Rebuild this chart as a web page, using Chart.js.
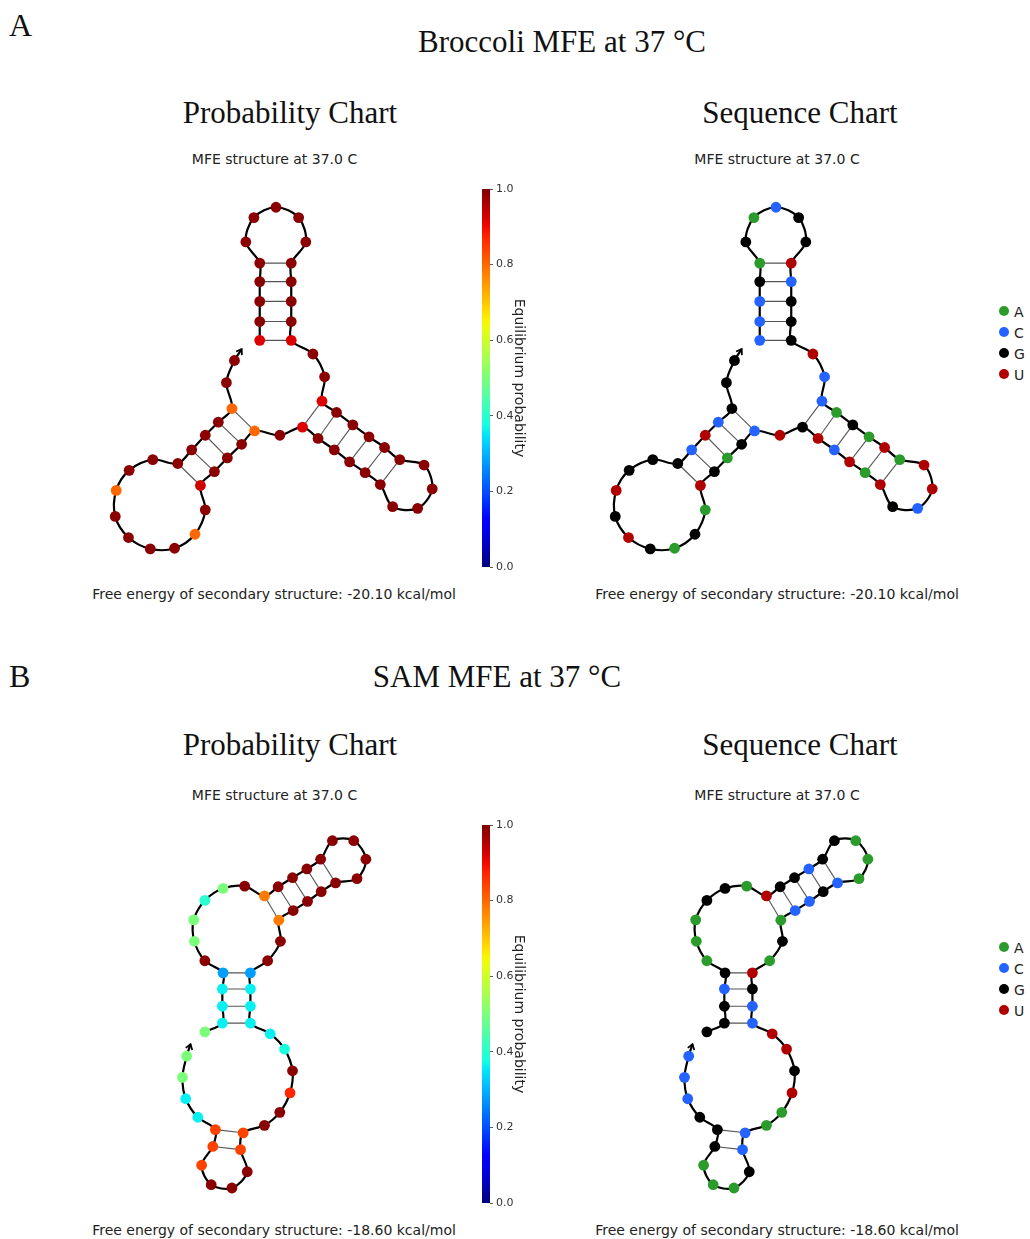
<!DOCTYPE html>
<html>
<head>
<meta charset="utf-8">
<title>Broccoli / SAM MFE structures</title>
<script src="https://cdn.jsdelivr.net/npm/chart.js@4.4.0/dist/chart.umd.min.js"></script>
<style>
  body { margin: 0; background: #fff; }
  #fig { position: relative; width: 1030px; height: 1239px; overflow: hidden; background: #fff; }
  .t { position: absolute; white-space: nowrap; line-height: 1; }
  .serif { font-family: "Liberation Serif", "Times New Roman", serif; color: #111; }
  .sans { font-family: "DejaVu Sans", sans-serif; color: #222; }
  .dot { position: absolute; width: 10px; height: 10px; border-radius: 50%; }
  canvas { position: absolute; }
</style>
</head>
<body>
<div id="fig"></div>
<script>
/* ---- Broccoli : coordenadas del dibujo (x, y hacia arriba), probabilidad y secuencia ---- */
const brocX = [169.3, 169.3, 169.3, 169.3, 169.3, 155.0, 163.3, 186.0, 209.3, 216.7,
               201.7, 201.7, 201.7, 201.7, 201.7, 224.0, 236.0, 233.3, 248.3, 265.0,
               281.7, 297.7, 313.3, 338.3, 346.7, 331.7, 306.0, 293.3, 277.7, 261.7,
               246.0, 229.3, 213.3, 190.0, 164.0, 150.7, 136.0, 122.7, 108.3, 113.3,
               102.7, 81.7, 56.7, 34.3, 20.7, 21.7, 35.0, 59.3, 85.0, 99.3,
               113.3, 126.7, 140.7, 135.0, 143.3];
const brocY = [240.7, 260.0, 280.7, 301.0, 320.0, 341.7, 366.7, 377.3, 366.7, 341.7,
               320.0, 301.0, 280.7, 260.0, 240.7, 226.7, 203.3, 178.3, 166.7, 154.0,
               141.7, 130.7, 118.3, 112.7, 88.3, 68.3, 70.0, 92.7, 105.0, 116.0,
               128.3, 140.0, 151.7, 143.3, 147.7, 134.0, 120.0, 106.0, 91.7, 66.7,
               41.7, 27.3, 26.7, 38.3, 60.0, 86.7, 107.3, 118.3, 114.3, 128.3,
               143.3, 156.7, 170.7, 197.3, 220.0];
const brocProb = [0.92, 0.99, 0.99, 0.99, 0.99, 0.99, 0.99, 0.99, 0.99, 0.99,
                  0.99, 0.99, 0.99, 0.99, 0.92, 0.99, 0.99, 0.92, 0.99, 0.99,
                  0.99, 0.99, 0.99, 0.99, 0.99, 0.99, 0.99, 0.99, 0.99, 0.99,
                  0.99, 0.99, 0.92, 0.99, 0.80, 0.99, 0.99, 0.99, 0.93, 0.99,
                  0.80, 0.99, 0.99, 0.99, 0.99, 0.80, 0.99, 0.99, 0.99, 0.99,
                  0.99, 0.99, 0.80, 0.99, 0.99];
const brocSeq = 'CCCGAGACGGUCGGGUCCAGAUAUUCGUAUCUGUCGAGUAGAGUGUGGGCUCGGG';
const brocPairI = [1, 2, 3, 4, 5, 18, 19, 20, 21, 22, 23, 35, 36, 37, 38, 39];
const brocPairJ = [15, 14, 13, 12, 11, 33, 32, 31, 30, 29, 28, 53, 52, 51, 50, 49];
const brocTip = [150.7, 231.7];
const brocEnergy = -20.10;

/* ---- SAM ---- */
const samX = [41.7, 60.0, 60.0, 60.0, 60.7, 41.7, 30.7, 30.0, 41.7, 60.7,
              83.3, 104.0, 118.3, 133.3, 148.3, 162.7, 175.0, 197.3, 210.0, 200.7,
              178.3, 163.3, 149.0, 134.0, 119.0, 120.7, 107.3, 89.3, 89.3, 89.3,
              89.3, 110.0, 125.0, 133.3, 130.7, 120.0, 104.0, 81.7, 79.0, 86.0,
              70.0, 48.3, 38.3, 50.0, 52.7, 34.3, 21.7, 18.3, 22.7];
const samY = [177.7, 186.7, 204.0, 221.7, 238.3, 250.7, 270.7, 292.7, 312.7, 325.0,
              327.3, 317.3, 326.7, 336.0, 345.0, 355.0, 374.0, 374.0, 355.0, 335.0,
              330.7, 321.7, 311.7, 302.3, 292.3, 270.7, 250.7, 238.3, 221.7, 204.0,
              186.7, 175.7, 160.0, 137.7, 115.0, 95.0, 81.7, 74.0, 56.7, 34.0,
              17.3, 20.7, 40.7, 60.0, 77.3, 90.0, 109.0, 131.0, 152.7];
const samProb = [0.50, 0.36, 0.36, 0.36, 0.28, 0.99, 0.50, 0.50, 0.40, 0.50,
                 0.99, 0.78, 0.99, 0.99, 0.99, 0.99, 0.99, 0.99, 0.99, 0.99,
                 0.99, 0.99, 0.99, 0.99, 0.78, 0.99, 0.99, 0.28, 0.36, 0.36,
                 0.36, 0.36, 0.38, 0.99, 0.87, 0.99, 0.99, 0.84, 0.84, 0.99,
                 0.99, 0.99, 0.84, 0.84, 0.84, 0.36, 0.36, 0.50, 0.50];
const samSeq = 'GGGCGAAAGGAUGGCGGAAACGCCAGAUGCCUUGUAACCGAAAGGGCCC';
const samPairI = [2, 3, 4, 5, 12, 13, 14, 15, 16, 38, 39];
const samPairJ = [31, 30, 29, 28, 25, 24, 23, 22, 21, 45, 44];
const samTip = [26.7, 165.0];
const samEnergy = -18.60;

const baseNames = ['A', 'C', 'G', 'U'];
const baseColors = ['#2b9b2b', '#2463ff', '#000000', '#b00000'];
const cbarTicks = [0, 0.2, 0.4, 0.6, 0.8, 1.0];

Chart.defaults.font.family = '"DejaVu Sans", sans-serif';

const fig = document.getElementById('fig');

/* mapa de color jet (matplotlib) */
const jetR = [[0, 0], [0.35, 0], [0.66, 1], [0.89, 1], [1, 0.5]];
const jetG = [[0, 0], [0.125, 0], [0.375, 1], [0.64, 1], [0.91, 0], [1, 0]];
const jetB = [[0, 0.5], [0.11, 1], [0.34, 1], [0.65, 0], [1, 0]];
function lerpTable(t, tab) {
  for (let i = 1; i < tab.length; i++) {
    if (t <= tab[i][0]) {
      const f = (t - tab[i - 1][0]) / (tab[i][0] - tab[i - 1][0]);
      return tab[i - 1][1] + f * (tab[i][1] - tab[i - 1][1]);
    }
  }
  return tab[tab.length - 1][1];
}
function jet(t) {
  const c = [jetR, jetG, jetB].map(tab => Math.round(255 * lerpTable(t, tab)));
  return `rgb(${c[0]},${c[1]},${c[2]})`;
}

/* texto: x = centro (o borde izq.), base = linea base */
function text(str, x, base, size, cls, center = true) {
  const d = document.createElement('div');
  d.className = 't ' + cls;
  d.textContent = str;
  d.style.fontSize = size + 'px';
  const k = cls === 'serif' ? 0.84 : 0.85;
  d.style.top = (base - k * size) + 'px';
  d.style.left = x + 'px';
  if (center) d.style.transform = 'translateX(-50%)';
  fig.appendChild(d);
}

function makeCanvas(left, top, w, h) {
  const c = document.createElement('canvas');
  c.width = w; c.height = h;
  c.style.left = left + 'px'; c.style.top = top + 'px';
  c.style.width = w + 'px'; c.style.height = h + 'px';
  fig.appendChild(c);
  return c;
}

/* flecha en el extremo 3' */
const arrowHead = {
  id: 'arrowHead',
  afterDatasetsDraw(chart) {
    const meta = chart.getDatasetMeta(chart.data.datasets.length - 1);
    const pts = meta.data;
    const a = pts[pts.length - 2], b = pts[pts.length - 1];
    const ang = Math.atan2(b.y - a.y, b.x - a.x);
    const ctx = chart.ctx;
    ctx.save();
    ctx.strokeStyle = '#000';
    ctx.lineWidth = 1.8;
    ctx.beginPath();
    ctx.moveTo(b.x - 6 * Math.cos(ang - 0.6), b.y - 6 * Math.sin(ang - 0.6));
    ctx.lineTo(b.x, b.y);
    ctx.lineTo(b.x - 6 * Math.cos(ang + 0.6), b.y - 6 * Math.sin(ang + 0.6));
    ctx.stroke();
    ctx.restore();
  }
};

function structure(canvas, xs, ys, tip, pairI, pairJ, colors, xr, yr) {
  const pts = xs.map((x, i) => ({ x: x, y: ys[i] }));
  const datasets = [];
  // nucleotidos
  datasets.push({
    data: pts, showLine: false, pointRadius: 5.4, pointHoverRadius: 5.4,
    pointBackgroundColor: colors, pointBorderWidth: 0, order: 0
  });
  // pares de bases
  pairI.forEach((p, k) => {
    const q = pairJ[k];
    datasets.push({
      data: [pts[p - 1], pts[q - 1]], showLine: true, pointRadius: 0,
      borderColor: '#555', borderWidth: 1.1, order: 1
    });
  });
  // esqueleto (backbone) + punta de la flecha, al final para el plugin
  datasets.push({
    data: pts.concat([{ x: tip[0], y: tip[1] }]), showLine: true, pointRadius: 0,
    borderColor: '#000', borderWidth: 2.2, tension: 0.33, order: 2
  });
  return new Chart(canvas, {
    type: 'scatter',
    data: { datasets: datasets },
    options: {
      responsive: false, animation: false, events: [],
      layout: { padding: 0 },
      plugins: { legend: { display: false }, tooltip: { enabled: false } },
      scales: {
        x: { display: false, min: xr[0], max: xr[1] },
        y: { display: false, min: yr[0], max: yr[1] }
      }
    },
    plugins: [arrowHead]
  });
}

function colorbar(canvas) {
  return new Chart(canvas, {
    type: 'bar',
    data: {
      labels: [''],
      datasets: [{
        data: [[0, 1]],
        barPercentage: 1, categoryPercentage: 1, borderWidth: 0,
        backgroundColor: (c) => {
          const a = c.chart.chartArea;
          if (!a) return '#888';
          const g = c.chart.ctx.createLinearGradient(0, a.bottom, 0, a.top);
          for (let i = 0; i <= 40; i++) g.addColorStop(i / 40, jet(i / 40));
          return g;
        }
      }]
    },
    options: {
      responsive: false, animation: false, events: [],
      layout: { padding: { top: 10, bottom: 10, left: 0, right: 0 } },
      plugins: { legend: { display: false }, tooltip: { enabled: false } },
      scales: {
        x: { display: false },
        y: {
          position: 'right', min: 0, max: 1,
          afterBuildTicks: (s) => { s.ticks = cbarTicks.map(v => ({ value: v })); },
          afterFit: (s) => { s.width = 37; },
          ticks: { callback: (v) => v.toFixed(1), font: { size: 11 }, color: '#333', padding: 3 },
          grid: { drawOnChartArea: false, tickLength: 3, color: '#333', lineWidth: 0.8 },
          border: { display: false },
          title: {
            display: true, text: 'Equilibrium probability', color: '#222',
            font: { size: 14 }, padding: { top: 0, bottom: 0 }
          }
        }
      }
    }
  });
}

function legend(x, y0) {
  baseNames.forEach((b, i) => {
    const d = document.createElement('div');
    d.className = 'dot';
    d.style.background = baseColors[i];
    d.style.left = (x - 5) + 'px';
    d.style.top = (y0 + 21 * i - 5) + 'px';
    fig.appendChild(d);
    text(b, x + 10, y0 + 21 * i + 5.5, 14, 'sans', false);
  });
}

function seqColors(seq) {
  return seq.split('').map(b => baseColors[baseNames.indexOf(b)]);
}

function panel(dy, letter, title, xs, ys, tip, pI, pJ, prob, seq, energy, geo) {
  text(letter, 9, 36 + dy + geo.letterShift, 32, 'serif', false);
  text(title, geo.titleX, 52 + dy + geo.titleShift, 31, 'serif');
  text('Probability Chart', 290, 123 + dy + geo.headShift, 31, 'serif');
  text('Sequence Chart', 800, 123 + dy + geo.headShift, 31, 'serif');
  text('MFE structure at 37.0 C', 274.5, 163.5 + dy, 14, 'sans');
  text('MFE structure at 37.0 C', 777, 163.5 + dy, 14, 'sans');
  const fe = 'Free energy of secondary structure: ' + energy.toFixed(2) + ' kcal/mol';
  text(fe, 274, 599 + dy, 14, 'sans');
  text(fe, 777, 599 + dy, 14, 'sans');

  const [l, t, w, h] = geo.box;
  structure(makeCanvas(l, t + dy, w, h), xs, ys, tip, pI, pJ, prob.map(jet), geo.xr, geo.yr);
  structure(makeCanvas(l + geo.shift, t + dy, w, h), xs, ys, tip, pI, pJ, seqColors(seq), geo.xr, geo.yr);
  colorbar(makeCanvas(482, 179 + dy, 45, 398));
  legend(1004, 311 + dy);
}

panel(0, 'A', 'Broccoli MFE at 37 \u00B0C', brocX, brocY, brocTip, brocPairI, brocPairJ,
      brocProb, brocSeq, brocEnergy,
      { box: [80, 170, 390, 420], xr: [-10, 380], yr: [-10, 410], shift: 500,
        titleX: 562, letterShift: 0, titleShift: 0, headShift: 0 });

panel(636, 'B', 'SAM MFE at 37 \u00B0C', samX, samY, samTip, samPairI, samPairJ,
      samProb, samSeq, samEnergy,
      { box: [150, 174, 250, 410], xr: [-10, 240], yr: [-10, 400], shift: 502,
        titleX: 497, letterShift: 15, titleShift: -1, headShift: -4 });
</script>
</body>
</html>
